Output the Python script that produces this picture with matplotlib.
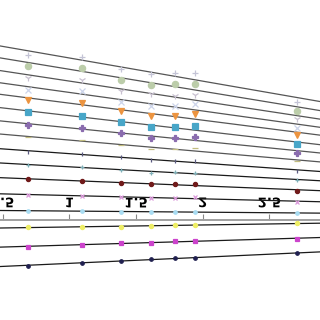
import numpy as np
import matplotlib
matplotlib.use('Agg')
import matplotlib.pyplot as plt
from matplotlib.patheffects import AbstractPathEffect
from matplotlib.transforms import Affine2D

# n values on the (log) x axis
n_values = [2, 3, 4, 5, 6, 7, 15]

# one row of points per series (axis runs downwards)
s01 = [55, 56.7, 69, 74.3, 73.3, 73.3, 102.3]
s02 = [65.7, 68.3, 80, 85, 84.3, 84, 110.7]
s03 = [78.3, 80, 90.7, 94.3, 95.7, 95, 119.3]
s04 = [90, 90.7, 101.7, 105.7, 105.7, 104, 127.7]
s05 = [100, 102.7, 111, 115.7, 115.7, 114, 135]
s06 = [112.3, 116, 122.3, 127.3, 126.7, 126, 144.3]
s07 = [125, 128.3, 133.3, 137.7, 137.7, 136.7, 152.7]
s08 = [137.3, 140, 145, 149, 149, 148.3, 161]
s09 = [151.7, 154, 157.3, 160, 161, 160.7, 171]
s10 = [165, 166.7, 170, 172.7, 172, 172.7, 180]
s11 = [179.3, 181, 182.7, 184.3, 184, 184.3, 190.7]
s12 = [195, 196, 196.7, 198.3, 197.7, 196.7, 202.3]
s13 = [211, 211, 211.7, 211.7, 211.7, 211.7, 213.3]
s14 = [227, 227, 226.7, 226, 225.3, 225, 223.3]
s15 = [246.7, 245, 243.3, 242.7, 241, 240.7, 239]
s16 = [265.7, 262.7, 261, 259, 258.3, 257.7, 253.3]
series = [s01, s02, s03, s04, s05, s06, s07, s08,
          s09, s10, s11, s12, s13, s14, s15, s16]

tick_values = [0.5, 1, 1.5, 2, 2.5]
tick_labels = ['0.5', '1', '1.5', '2', '2.5']

markers = ['+', 'o', '1', 'x', 'v', 's', 'P', '_',
           '|', '+', 'o', 'x', 'o', 'o', 's', 'o']
colors = ['#c4c4d6', '#bccdaa', '#c8c0d0', '#ccd4ea', '#ec9440', '#48a6c8', '#8a6cae', '#c2bd80',
          '#5a5a80', '#80b0b8', '#701a1a', '#dc9adc', '#a8dcf2', '#eeee66', '#cc44cc', '#202050']
msizes = [5, 4.5, 5, 4.5, 4.5, 4.5, 4.5, 5,
          2.5, 3, 3, 3, 2.5, 3, 3.5, 2.5]


class VFlip(AbstractPathEffect):
    # mirror the text glyphs top to bottom (the whole picture is mirrored)
    def draw_path(self, renderer, gc, tpath, affine, rgbFace=None):
        ext = tpath.get_extents()
        mid = (ext.y0 + ext.y1) / 2
        flip = Affine2D().translate(0, -mid).scale(1, -1).translate(0, mid)
        renderer.draw_path(gc, tpath, flip + affine, rgbFace)


x = np.log(n_values)
xlim = (0.4805, 2.8793)

fig = plt.figure(figsize=(3.2, 3.2), dpi=100)
ax = fig.add_axes([0, 0, 1, 1])
ax.set_xlim(*xlim)
ax.set_ylim(320, 0)

xx = np.array(xlim)
for i, (ys, m, c, ms) in enumerate(zip(series, markers, colors, msizes)):
    k, b = np.polyfit(x, ys, 1)
    lc = '#555555' if i < 8 else '#1a1a1a'
    ax.plot(xx, k * xx + b, color=lc, lw=0.9, zorder=2)
    ax.plot(x, ys, linestyle='none', marker=m, color=c, markersize=ms,
            markeredgewidth=0.9, zorder=3)

for side in ['left', 'right', 'bottom']:
    ax.spines[side].set_visible(False)
ax.spines['top'].set_position(('data', 220))
ax.spines['top'].set_color('#a0a0a0')
ax.spines['top'].set_linewidth(1.4)
ax.set_yticks([])
ax.xaxis.tick_top()
ax.set_xticks(tick_values, tick_labels)
ax.tick_params(axis='x', direction='out', length=4, width=0.8, color='#888888',
               pad=3, labelsize=9.5)
for t in ax.xaxis.get_major_ticks():
    t.label2.set_path_effects([VFlip()])
    t.label2.set_fontweight('bold')

fig.savefig('out.png', dpi=100)
